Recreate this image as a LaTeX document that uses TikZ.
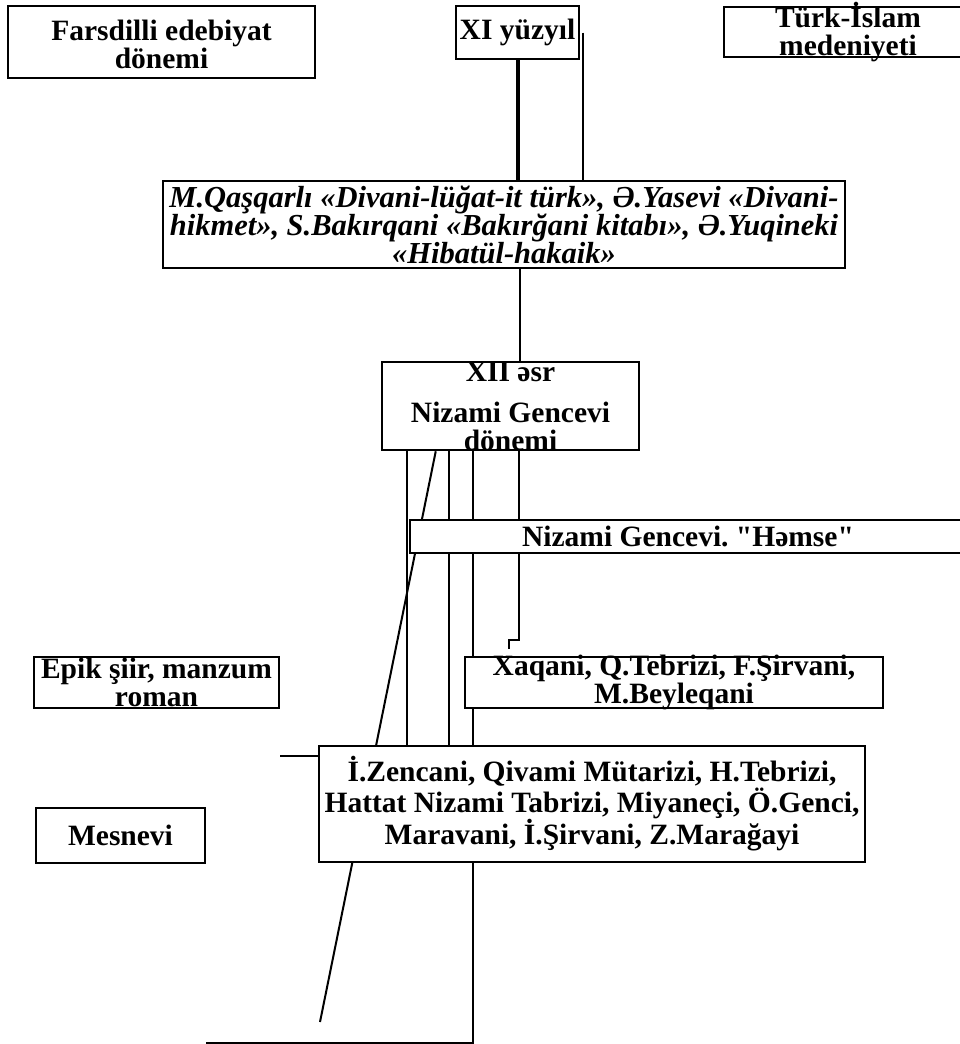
\documentclass[tikz,border=0pt]{standalone}
\usepackage{fontspec}
\setmainfont{Liberation Serif}[Ligatures=TeXOff]
\usetikzlibrary{backgrounds}
\frenchspacing

\begin{document}
\begin{tikzpicture}[
    x=1pt,
    y=-1pt,
    box/.style={
        draw=black,
        fill=white,
        line width=2.5pt,
        inner sep=0pt
    },
    txt/.style={
        align=center,
        inner sep=0pt,
        font=\fontsize{29.5}{28}\selectfont\bfseries
    },
    txtit/.style={
        txt,
        font=\fontsize{30.5}{28}\selectfont\bfseries\itshape
    },
    link/.style={
        line width=2pt,
        draw=black
    }
]
    \useasboundingbox (0,0) rectangle (960,1044);

    % Yuxari sira
    \node[box, minimum width=307, minimum height=72] (fars) at (161.5,42) {};
    \node[box, minimum width=123, minimum height=53] (xi) at (517.5,32.5) {};
    \node[box, minimum width=248, minimum height=50] (turk) at (848,32) {};

    % XI esr muellifleri
    \node[box, minimum width=682, minimum height=87] (qas) at (504,224.5) {};

    % XII esr
    \node[box, minimum width=257, minimum height=88] (xii) at (510.5,406) {};
    \node[box, minimum width=556, minimum height=33] (hamse) at (688,536.5) {};

    % Asagi sira
    \node[box, minimum width=245, minimum height=51] (epik) at (156.5,682.5) {};
    \node[box, minimum width=418, minimum height=51] (xaq) at (674,682.5) {};
    \node[box, minimum width=546, minimum height=116] (zen) at (592,804) {};
    \node[box, minimum width=169, minimum height=55] (mes) at (120.5,835.5) {};

    % Metnler
    \node[txt] (farsT) at ([yshift=-2pt]fars) {Farsdilli edebiyat\\dönemi};
    \node[txt] (xiT) at (xi) {XI yüzyıl};
    \node[txt] (turkT) at (turk) {Türk-İslam\\medeniyeti};
    \node[txtit] (qasT) at (qas) {M.Qaşqarlı «Divani-lüğat-it türk», Ə.Yasevi «Divani-\\hikmet», S.Bakırqani «Bakırğani kitabı», Ə.Yuqineki\\«Hibatül-hakaik»};
    \node[txt] (xiiT) at (xii) {XII əsr\\[13pt]Nizami Gencevi\\dönemi};
    \node[txt] (hamseT) at (hamse) {Nizami Gencevi. "Həmse"};
    \node[txt] (epikT) at (epik) {Epik şiir, manzum\\roman};
    \node[txt] (xaqT) at (xaq) {Xaqani, Q.Tebrizi, F.Şirvani,\\M.Beyleqani};
    \node[txt] (zenT) at (zen) {İ.Zencani, Qivami Mütarizi, H.Tebrizi,\\Hattat Nizami Tabrizi, Miyaneçi, Ö.Genci,\\Maravani, İ.Şirvani, Z.Marağayi};
    \node[txt] (mesT) at (mes) {Mesnevi};

    % Xetler
    \begin{scope}[on background layer]
        \draw[link, line width=4pt] (xi.south) -- (xi.south |- qas.north);
        \coordinate (xr) at ([xshift=3pt]xi.east);
        \draw[link] (xr) -- (xr |- qas.north);

        \coordinate (q1) at ([xshift=9.5pt]xii.north);
        \draw[link] (q1) -- (q1 |- qas.south);

        \foreach \dx in {26,68}{
            \coordinate (v) at ([xshift=\dx pt]xii.south west);
            \draw[link] (v) -- (v |- zen.north);
        }

        \coordinate (v3) at ([xshift=92pt]xii.south west);
        \coordinate (alt) at ([yshift=-207.5pt]mes.east);
        \draw[link] (v3) |- (alt);

        \coordinate (diagEnd) at (320,1022);
        \draw[link] ([xshift=55pt]xii.south west) -- (diagEnd);

        \draw[link] ([xshift=138pt]xii.south west) -- ++(0,189) -- ++(-10,0) -- ++(0,9);

        \coordinate (z1) at ([yshift=-11pt]zen.north west);
        \draw[link] (z1) -- (z1 -| epik.east);
    \end{scope}

\end{tikzpicture}
\end{document}
